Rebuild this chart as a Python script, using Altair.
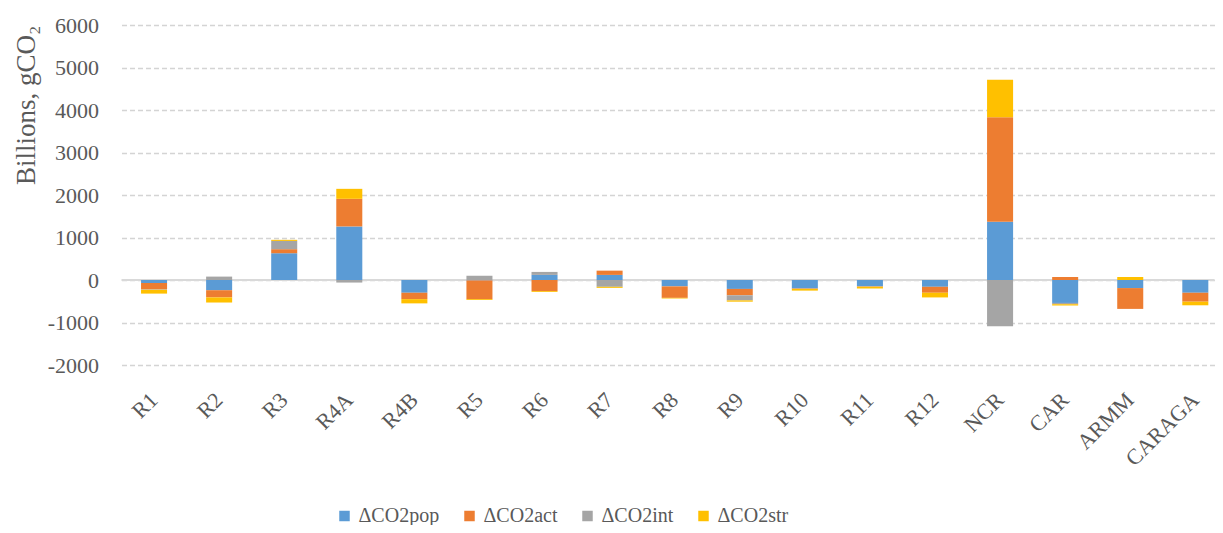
import altair as alt
import pandas as pd

regions = ["R1", "R2", "R3", "R4A", "R4B", "R5", "R6", "R7", "R8", "R9",
           "R10", "R11", "R12", "NCR", "CAR", "ARMM", "CARAGA"]
series = ["ΔCO2pop", "ΔCO2act", "ΔCO2int", "ΔCO2str"]
colors = ["#5B9BD5", "#ED7D31", "#A5A5A5", "#FFC000"]

co2_pop = [-70, -240, 630, 1260, -300, -10, 120, 120, -150, -210, -200, -150, -160, 1370, -540, -190, -300]
co2_act = [-150, -170, 95, 650, -150, -440, -260, 100, -270, -150, -10, -10, -140, 2460, 70, -490, -210]
co2_int = [-10, 80, 195, -60, 0, 100, 70, -160, 0, -120, 0, 0, 0, -1090, -30, 0, 0]
co2_str = [-90, -120, 25, 235, -100, -20, -20, -25, -15, -30, -40, -40, -110, 880, -30, 70, -85]

y_ticks = [-2000, -1000, 0, 1000, 2000, 3000, 4000, 5000, 6000]

rows = []
for k, (name, vals) in enumerate(zip(series, [co2_pop, co2_act, co2_int, co2_str])):
    for r, v in zip(regions, vals):
        rows.append({"region": r, "series": name, "idx": k, "value": v})
df = pd.DataFrame(rows)

FONT = "Liberation Serif"
TXT = "#595959"

zero = alt.Chart(pd.DataFrame({"y": [0]})).mark_rule(color="#D9D9D9", strokeWidth=2).encode(
    y=alt.Y("y:Q")
)

bars = alt.Chart(df).mark_bar().encode(
    x=alt.X("region:N", sort=regions,
            scale=alt.Scale(paddingInner=0.6, paddingOuter=0.1975, align=0.76, round=False),
            axis=alt.Axis(title=None, labelAngle=-45, labelAlign="right", labelBaseline="middle",
                          labelFont=FONT, labelFontSize=22,
                          labelColor=TXT, labelPadding=31, ticks=False, domain=False, grid=False)),
    y=alt.Y("value:Q", stack="zero",
            scale=alt.Scale(domain=[-2000, 6000], nice=False, zero=False),
            axis=alt.Axis(title="Billions, gCO₂", values=y_ticks, labelExpr="'' + datum.value",
                          labelFont=FONT, labelFontSize=22,
                          labelColor=TXT, labelPadding=23, ticks=False, domain=False,
                          grid=True, gridDash=[5, 3], gridColor="#D4D4D4", gridWidth=1.3,
                          titleFont=FONT, titleFontSize=27, titleFontWeight="normal",
                          titleColor=TXT, titlePadding=7, titleAnchor="end")),
    color=alt.Color("series:N", sort=series,
                    scale=alt.Scale(domain=series, range=colors),
                    legend=alt.Legend(title=None, orient="none", direction="horizontal",
                                      legendX=213, legendY=481,
                                      symbolType="square", symbolSize=110, symbolStrokeWidth=0,
                                      labelFont=FONT, labelFontSize=20, labelColor=TXT,
                                      labelOffset=4, columnPadding=20)),
    order=alt.Order("idx:Q"),
)

chart = alt.layer(zero, bars).properties(
    width=1093, height=340,
    padding={"left": 113.5, "top": 17, "right": 0, "bottom": 160},
    autosize=alt.AutoSizeParams(type="none"),
).configure_view(stroke=None)

chart.save("out.html", embed_options={"renderer": "svg", "actions": False})
